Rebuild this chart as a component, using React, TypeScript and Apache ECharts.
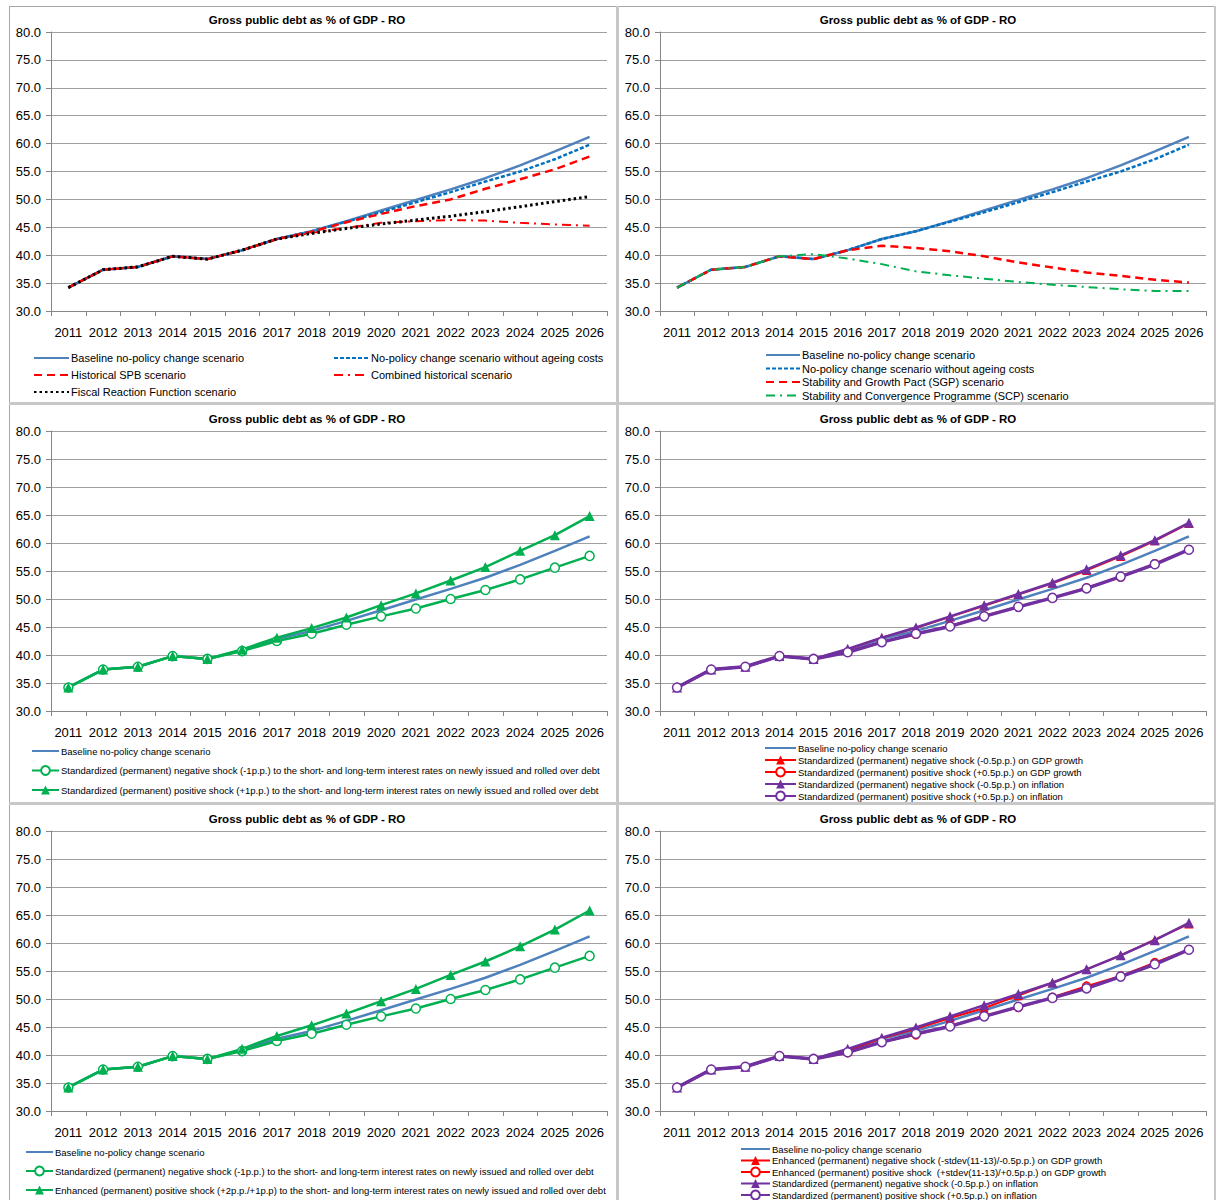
import React, { useEffect, useRef } from "react";
import * as echarts from "echarts";

const years = ["2011","2012","2013","2014","2015","2016","2017","2018","2019","2020","2021","2022","2023","2024","2025","2026"];
const yTicks = [30, 35, 40, 45, 50, 55, 60, 65, 70, 75, 80];

const baseline = [34.2, 37.4, 37.9, 39.8, 39.3, 40.9, 42.9, 44.3, 46.1, 48.0, 49.9, 51.8, 53.8, 56.1, 58.6, 61.2];
const noAgeing = [34.2, 37.4, 37.9, 39.8, 39.3, 40.9, 42.9, 44.3, 46.0, 47.7, 49.5, 51.3, 53.2, 55.0, 57.2, 59.8];
const histSPB = [34.2, 37.4, 37.9, 39.8, 39.3, 40.9, 42.9, 44.2, 45.9, 47.4, 48.8, 50.0, 51.9, 53.6, 55.4, 57.7];
const combinedHist = [34.2, 37.4, 37.9, 39.8, 39.3, 40.9, 42.9, 44.0, 44.9, 45.8, 46.1, 46.3, 46.2, 45.8, 45.5, 45.3];
const frf = [34.2, 37.4, 37.9, 39.8, 39.3, 40.9, 42.9, 43.9, 44.8, 45.6, 46.3, 47.0, 47.8, 48.7, 49.6, 50.5];
const sgp = [34.2, 37.4, 37.9, 39.8, 39.3, 40.9, 41.7, 41.3, 40.7, 39.8, 38.7, 37.8, 36.9, 36.3, 35.6, 35.1];
const scp = [34.2, 37.4, 37.9, 39.8, 40.2, 39.4, 38.4, 37.1, 36.4, 35.8, 35.2, 34.7, 34.3, 33.9, 33.6, 33.6];
const irNeg = [34.2, 37.4, 37.9, 39.8, 39.3, 40.7, 42.5, 43.8, 45.4, 46.9, 48.3, 50.0, 51.6, 53.5, 55.6, 57.7];
const irPos = [34.2, 37.4, 37.9, 39.8, 39.3, 41.0, 43.1, 44.8, 46.7, 48.9, 51.0, 53.3, 55.7, 58.6, 61.4, 64.8];
const irPosEnh = [34.2, 37.4, 37.9, 39.8, 39.3, 41.1, 43.4, 45.3, 47.4, 49.6, 51.8, 54.3, 56.7, 59.4, 62.4, 65.8];
const gdpNeg = [34.2, 37.4, 37.9, 39.8, 39.3, 41.0, 43.1, 44.8, 46.8, 48.8, 50.8, 52.8, 55.1, 57.6, 60.4, 63.5];
const gdpPos = [34.2, 37.4, 37.9, 39.8, 39.3, 40.5, 42.3, 43.7, 45.2, 47.0, 48.6, 50.2, 52.0, 53.9, 56.3, 58.8];
const inflNeg = [34.2, 37.4, 37.9, 39.8, 39.3, 41.1, 43.1, 44.9, 46.9, 48.9, 50.9, 52.9, 55.3, 57.8, 60.5, 63.6];
const inflPos = [34.2, 37.4, 37.9, 39.8, 39.3, 40.5, 42.3, 43.8, 45.1, 46.9, 48.6, 50.2, 51.9, 54.0, 56.2, 58.8];
const gdpNegEnh = [34.2, 37.4, 37.9, 39.8, 39.3, 40.8, 43.0, 44.7, 46.6, 48.4, 50.6, 52.9, 55.3, 57.8, 60.6, 63.4];
const gdpPosEnh = [34.2, 37.4, 37.9, 39.8, 39.3, 40.4, 42.3, 43.6, 45.2, 47.0, 48.5, 50.3, 52.3, 54.1, 56.5, 58.8];

const TITLE = "Gross public debt as % of GDP - RO";
const N_BASE = "Baseline no-policy change scenario";
const N_NOAGE = "No-policy change scenario without ageing costs";
const N_SPB = "Historical SPB scenario";
const N_COMB = "Combined historical scenario";
const N_FRF = "Fiscal Reaction Function scenario";
const N_SGP = "Stability and Growth Pact (SGP) scenario";
const N_SCP = "Stability and Convergence Programme (SCP) scenario";
const N_IRNEG = "Standardized (permanent) negative shock (-1p.p.) to the short- and long-term interest rates on newly issued and rolled over debt";
const N_IRPOS = "Standardized (permanent) positive shock (+1p.p.) to the short- and long-term interest rates on newly issued and rolled over debt";
const N_IRPOSENH = "Enhanced (permanent) positive shock (+2p.p./+1p.p) to the short- and long-term interest rates on newly issued and rolled over debt";
const N_GDPNEG = "Standardized (permanent) negative shock (-0.5p.p.) on GDP growth";
const N_GDPPOS = "Standardized (permanent) positive shock (+0.5p.p.) on GDP growth";
const N_INFNEG = "Standardized (permanent) negative shock (-0.5p.p.) on inflation";
const N_INFPOS = "Standardized (permanent) positive shock (+0.5p.p.) on inflation";
const N_GDPNEGENH = "Enhanced (permanent) negative shock (-stdev(11-13)/-0.5p.p.) on GDP growth";
const N_GDPPOSENH = "Enhanced (permanent) positive shock  (+stdev(11-13)/+0.5p.p.) on GDP growth";

const NO_SYMBOL = [N_BASE, N_NOAGE, N_SPB, N_COMB, N_FRF, N_SGP, N_SCP];

const FONT = "'Liberation Sans', Arial, sans-serif";
const BLUE = "#4F81BD";
const DBLUE = "#0070C0";
const RED = "#FF0000";
const GREEN = "#00B050";
const PURPLE = "#7030A0";

const panels = [
  { l: 51, t: 32, w: 556, h: 279 },
  { l: 660, t: 32, w: 546, h: 279 },
  { l: 51, t: 431, w: 556, h: 280 },
  { l: 660, t: 431, w: 546, h: 280 },
  { l: 51, t: 831, w: 556, h: 280 },
  { l: 660, t: 831, w: 546, h: 280 },
];

function ser(name: string, data: number[], p: number, color: string, width: number, type: any, symbol = "none", symbolSize = 0, fill?: string) {
  return {
    type: "line",
    name,
    data,
    xAxisIndex: p,
    yAxisIndex: p,
    symbol,
    symbolSize,
    showSymbol: symbol !== "none",
    lineStyle: { color, width, type },
    itemStyle: { color: fill || color, borderColor: color, borderWidth: symbol === "circle" ? 1.5 : 0 },
    emphasis: { disabled: true },
    silent: true,
  };
}

function legend(names: string[], left: number, firstRowY: number, spacing: number, iw: number, fs: number, rowH: number) {
  return {
    orient: "vertical",
    left,
    top: firstRowY - rowH / 2,
    height: 120,
    itemWidth: iw,
    itemHeight: rowH,
    itemGap: spacing - rowH,
    padding: 0,
    selectedMode: false,
    data: names.map((n) => (NO_SYMBOL.includes(n) ? { name: n, itemStyle: { opacity: 0 } } : { name: n })),
    textStyle: { fontFamily: FONT, fontSize: fs, color: "#000", lineHeight: rowH, padding: [0, 0, 0, -3] },
  };
}

export default function App() {
  const ref = useRef<HTMLDivElement>(null);
  useEffect(() => {
    if (!ref.current) return;
    const chart = echarts.init(ref.current, undefined, { renderer: "svg" });

    const grids = panels.map((p) => ({ left: p.l, top: p.t, width: p.w, height: p.h, containLabel: false }));
    const xAxes = panels.map((_, i) => ({
      type: "category",
      gridIndex: i,
      data: years,
      boundaryGap: true,
      axisLine: { show: true, lineStyle: { color: "#868686", width: 1 } },
      axisTick: { show: true, length: 5, lineStyle: { color: "#868686" } },
      axisLabel: { fontFamily: FONT, fontSize: 13, color: "#000", margin: 15, interval: 0 },
      splitLine: { show: false },
    }));
    const yAxes = panels.map((_, i) => ({
      type: "value",
      gridIndex: i,
      min: yTicks[0],
      max: yTicks[yTicks.length - 1],
      interval: 5,
      axisLine: { show: true, lineStyle: { color: "#868686", width: 1 } },
      axisTick: { show: true, length: 5, lineStyle: { color: "#868686" } },
      axisLabel: { fontFamily: FONT, fontSize: 13, color: "#000", margin: 10, formatter: (v: number) => v.toFixed(1) },
      splitLine: { show: true, lineStyle: { color: "#A0A0A0", width: 1 } },
    }));

    const titleCenters = [
      { x: 307, y: 21 }, { x: 918, y: 21 },
      { x: 307, y: 420 }, { x: 918, y: 420 },
      { x: 307, y: 820 }, { x: 918, y: 820 },
    ];
    const titles = titleCenters.map((c) => ({
      text: TITLE,
      left: c.x,
      top: c.y - 7,
      textAlign: "center",
      padding: 0,
      textStyle: { fontFamily: FONT, fontSize: 11.5, fontWeight: "bold", color: "#000" },
    }));

    const series: any[] = [
      ser(N_BASE, baseline, 0, BLUE, 2.5, "solid"),
      ser(N_NOAGE, noAgeing, 0, DBLUE, 2.5, [4, 2]),
      ser(N_SPB, histSPB, 0, RED, 2.5, [8, 5]),
      ser(N_COMB, combinedHist, 0, RED, 2, [9, 5, 2, 5]),
      ser(N_FRF, frf, 0, "#000000", 3, [2.5, 3]),

      ser(N_BASE, baseline, 1, BLUE, 2.5, "solid"),
      ser(N_NOAGE, noAgeing, 1, DBLUE, 2.5, [4, 2]),
      ser(N_SGP, sgp, 1, RED, 2.5, [8, 5]),
      ser(N_SCP, scp, 1, GREEN, 2, [9, 5, 2, 5]),

      ser(N_BASE, baseline, 2, BLUE, 2.5, "solid"),
      ser(N_IRNEG, irNeg, 2, GREEN, 2.5, "solid", "circle", 9, "#ffffff"),
      ser(N_IRPOS, irPos, 2, GREEN, 2.5, "solid", "triangle", 10),

      ser(N_BASE, baseline, 3, BLUE, 2.5, "solid"),
      ser(N_GDPNEG, gdpNeg, 3, RED, 2, "solid", "triangle", 9),
      ser(N_GDPPOS, gdpPos, 3, RED, 2, "solid", "circle", 8, "#ffffff"),
      ser(N_INFNEG, inflNeg, 3, PURPLE, 2.5, "solid", "triangle", 10),
      ser(N_INFPOS, inflPos, 3, PURPLE, 3.5, "solid", "circle", 9, "#ffffff"),

      ser(N_BASE, baseline, 4, BLUE, 2.5, "solid"),
      ser(N_IRNEG, irNeg, 4, GREEN, 2.5, "solid", "circle", 9, "#ffffff"),
      ser(N_IRPOSENH, irPosEnh, 4, GREEN, 2.5, "solid", "triangle", 10),

      ser(N_BASE, baseline, 5, BLUE, 2.5, "solid"),
      ser(N_GDPNEGENH, gdpNegEnh, 5, RED, 2, "solid", "triangle", 9),
      ser(N_GDPPOSENH, gdpPosEnh, 5, RED, 2, "solid", "circle", 8, "#ffffff"),
      ser(N_INFNEG, inflNeg, 5, PURPLE, 2.5, "solid", "triangle", 10),
      ser(N_INFPOS, inflPos, 5, PURPLE, 3.5, "solid", "circle", 9, "#ffffff"),
    ];

    const legends = [
      legend([N_BASE, N_SPB, N_FRF], 33, 358, 17, 35, 11, 12),
      legend([N_NOAGE, N_COMB], 333, 358, 17, 35, 11, 12),
      legend([N_BASE, N_NOAGE, N_SGP, N_SCP], 765, 355, 13.5, 34, 11, 12),
      legend([N_BASE, N_IRNEG, N_IRPOS], 31, 751, 19.5, 27, 9.5, 11),
      legend([N_BASE, N_GDPNEG, N_GDPPOS, N_INFNEG, N_INFPOS], 764, 748, 12, 31, 9.5, 11),
      legend([N_BASE, N_IRNEG, N_IRPOSENH], 25, 1152, 19, 27, 9.5, 11),
      legend([N_BASE, N_GDPNEGENH, N_GDPPOSENH, N_INFNEG, N_INFPOS], 740, 1149, 11.5, 29, 9.5, 11),
    ];

    const border = "#A6A6A6";
    const sep = "#C8C8C8";
    const graphic = [
      { type: "line", shape: { x1: 9, y1: 6.5, x2: 1215, y2: 6.5 }, style: { stroke: border, lineWidth: 1 } },
      { type: "line", shape: { x1: 9.5, y1: 6, x2: 9.5, y2: 1200 }, style: { stroke: border, lineWidth: 1 } },
      { type: "line", shape: { x1: 1215, y1: 6, x2: 1215, y2: 1200 }, style: { stroke: sep, lineWidth: 2 } },
      { type: "line", shape: { x1: 617.5, y1: 6, x2: 617.5, y2: 1200 }, style: { stroke: sep, lineWidth: 3 } },
      { type: "line", shape: { x1: 9, y1: 403.5, x2: 1215, y2: 403.5 }, style: { stroke: sep, lineWidth: 3 } },
      { type: "line", shape: { x1: 9, y1: 803.5, x2: 1215, y2: 803.5 }, style: { stroke: sep, lineWidth: 3 } },
    ];

    chart.setOption({
      animation: false,
      backgroundColor: "#ffffff",
      title: titles,
      grid: grids,
      xAxis: xAxes,
      yAxis: yAxes,
      legend: legends,
      series,
      graphic,
    });
    return () => chart.dispose();
  }, []);
  return <div ref={ref} style={{ position: "absolute", left: 0, top: 0, width: 1216, height: 1200 }} />;
}
